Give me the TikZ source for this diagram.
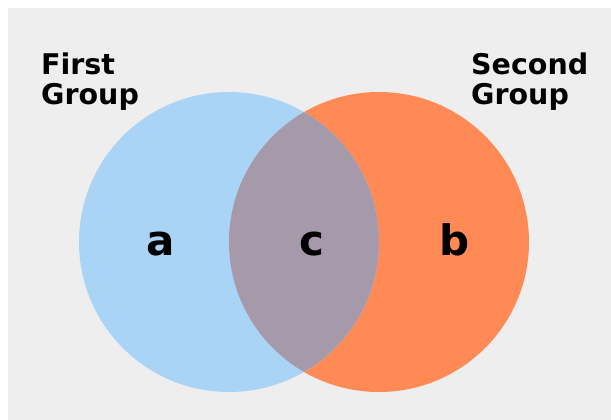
\documentclass[tikz,border=0pt]{standalone}
\usepackage{fontspec}
\setsansfont{DejaVu Sans}
\usepackage{tikz}
\usetikzlibrary{positioning}

\definecolor{pagegray}{HTML}{EEEEEE}
\definecolor{firstblue}{HTML}{AAD4F6}
\definecolor{secondorange}{HTML}{FF8A56}
\definecolor{bothmauve}{HTML}{A69AAA}

\begin{document}
\begin{tikzpicture}[
    x=1pt, y=-1pt,
    grouplabel/.style={anchor=base west, inner sep=0pt, align=left, font=\sffamily\bfseries\fontsize{28.5}{29}\selectfont},
    setletter/.style={anchor=base, inner sep=0pt, font=\sffamily\bfseries\fontsize{42}{42}\selectfont},
  ]
    % page and background
    \useasboundingbox (0,0) rectangle (611,420);
    \fill[white] (0,0) rectangle (611,420);
    \fill[pagegray] (8,8) rectangle (611,420);

    % the two sets
    \fill[secondorange] (379,242) circle[radius=150];
    \fill[firstblue] (229,242) circle[radius=150];

    % overlap
    \begin{scope}
      \clip (229,242) circle[radius=150];
      \fill[bothmauve] (379,242) circle[radius=150];
    \end{scope}

    % group names (base = last line)
    \node[grouplabel] (first) at (41,104) {First\\Group};
    \node[grouplabel] (second) at (471,104) {Second\\Group};

    % region letters
    \node[setletter] (a) at (161,255) {a};
    \node[setletter] (c) at (312,255) {c};
    \node[setletter] (b) at (455,255) {b};
\end{tikzpicture}
\end{document}
